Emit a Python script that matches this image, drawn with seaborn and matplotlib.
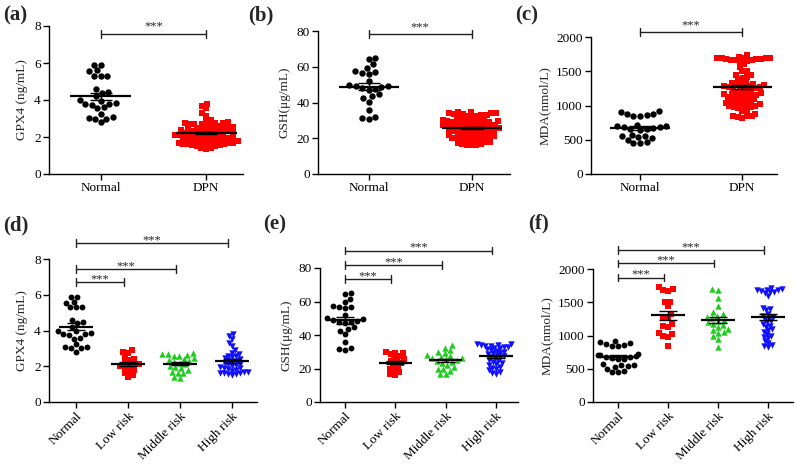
import numpy as np
import pandas as pd
import matplotlib
matplotlib.use("Agg")
import matplotlib.pyplot as plt
import seaborn as sns

sns.set_theme(style="ticks")
plt.rcParams["font.family"] = ["Liberation Serif", "DejaVu Serif"]

# ---------------- data ----------------
gpx4_normal = [5.9, 5.88, 5.6, 5.55, 5.3, 5.3, 5.3, 4.6, 4.4, 4.45, 4.2, 4.0, 3.95,
               3.85, 3.8, 3.8, 3.75, 3.6, 3.55, 3.25, 3.1, 3.05, 3.0, 3.0, 2.8]
gpx4_low = [2.9, 2.8, 2.75, 2.5, 2.4, 2.35, 2.2, 2.15, 2.1, 2.05, 2.0, 1.9, 1.8, 1.75,
            1.6, 1.5, 1.4]
gpx4_middle = [2.75, 2.7, 2.7, 2.65, 2.6, 2.55, 2.45, 2.4, 2.35, 2.3, 2.25, 2.2, 2.1,
               2.0, 1.95, 1.9, 1.8, 1.7, 1.65, 1.6, 1.4, 1.35]
gpx4_high = [3.8, 3.7, 3.55, 3.3, 3.15, 2.9, 2.75, 2.7, 2.6, 2.55, 2.5, 2.45, 2.4, 2.35,
             2.3, 2.25, 2.2, 2.15, 2.1, 2.05, 2.0, 1.95, 1.9, 1.9, 1.85, 1.8, 1.75, 1.7,
             1.7, 1.65, 1.6, 1.6, 1.55, 1.55, 1.5]

gsh_normal = [65, 64.5, 61.5, 59.5, 57.5, 57, 56.5, 56, 52, 50, 49.5, 49, 48.5, 48, 47.5,
              47, 44.5, 43.5, 42.5, 40.5, 36, 32, 31.5, 31]
gsh_low = [30, 29.5, 29, 28.5, 27.5, 26.5, 25.5, 24.5, 24, 23, 22, 21, 20, 19, 18, 16.5, 16]
gsh_middle = [34, 32.5, 31, 30, 29, 28, 27.5, 27, 26.5, 26, 25.5, 25, 24.5, 24, 23, 22,
              21, 20, 19.5, 18.5, 17, 16.5]
gsh_high = [34.5, 34.5, 34, 34, 33.5, 33.5, 33, 33, 32.5, 32, 31.5, 31, 30.5, 30, 29.5,
            29, 28.5, 28, 27.5, 27, 26.5, 26, 25, 24.5, 24, 23, 22.5, 22, 21, 20.5, 20,
            19, 18, 17.5, 17]

mda_normal = [920, 900, 880, 870, 860, 840, 840, 720, 700, 700, 690, 680, 670, 660, 650,
              640, 570, 560, 550, 540, 530, 500, 470, 450, 450]
mda_low = [1730, 1700, 1680, 1670, 1510, 1500, 1440, 1330, 1280, 1270, 1170, 1150, 1130,
           1040, 1020, 1000, 980, 840]
mda_middle = [1700, 1680, 1560, 1450, 1350, 1320, 1300, 1280, 1260, 1240, 1220, 1200,
              1180, 1160, 1130, 1100, 1080, 1050, 1040, 990, 940, 830]
mda_high = [1710, 1700, 1690, 1690, 1680, 1670, 1660, 1650, 1640, 1600, 1420, 1400, 1380,
            1330, 1300, 1280, 1270, 1250, 1220, 1200, 1170, 1150, 1130, 1100, 1080, 1050,
            1020, 1000, 980, 960, 920, 880, 850, 840, 820]

# DPN group = all risk groups together
gpx4_dpn = gpx4_low + gpx4_middle + gpx4_high
gsh_dpn = gsh_low + gsh_middle + gsh_high
mda_dpn = mda_low + mda_middle + mda_high

groups_2 = ["Normal", "DPN"]
groups_4 = ["Normal", "Low risk", "Middle risk", "High risk"]

ylabels = ["GPX4 (ng/mL)", "GSH(\u03bcg/mL)", "MDA(nmol/L)"]
yticks = [[0, 2, 4, 6, 8], [0, 20, 40, 60, 80], [0, 500, 1000, 1500, 2000]]
panel_letters = ["(a)", "(b)", "(c)", "(d)", "(e)", "(f)"]

# ---------------- styles ----------------
colors = {"Normal": "#000000", "DPN": "#FF0000", "Low risk": "#FF0000",
          "Middle risk": "#1FCC1F", "High risk": "#1010FF"}
markers = {"Normal": "o", "DPN": "s", "Low risk": "s",
           "Middle risk": "^", "High risk": "v"}

W, H = 797, 466
fig = plt.figure(figsize=(W / 100, H / 100), dpi=100)
fig.patch.set_facecolor("white")


def add_ax(l, r, t, b):
    return fig.add_axes([l / W, 1 - b / H, (r - l) / W, (b - t) / H])


panels = [
    dict(box=(49, 243, 26, 174), groups=groups_2, data=[gpx4_normal, gpx4_dpn], m=0,
         xlim=(-0.49, 1.35), letter_xy=(3, 5),
         brackets=[(1, 0.946)], star_off=3.0),
    dict(box=(318, 510, 31, 174), groups=groups_2, data=[gsh_normal, gsh_dpn], m=1,
         xlim=(-0.49, 1.37), letter_xy=(248, 5),
         brackets=[(1, 0.979)], star_off=3.0),
    dict(box=(591, 777, 37, 174), groups=groups_2, data=[mda_normal, mda_dpn], m=2,
         xlim=(-0.48, 1.34), letter_xy=(515, 5),
         brackets=[(1, 1.036)], star_off=3.0),
    dict(box=(49, 257, 259, 402), groups=groups_4,
         data=[gpx4_normal, gpx4_low, gpx4_middle, gpx4_high], m=0,
         xlim=(-0.52, 3.48), letter_xy=(3, 215),
         brackets=[(1, 0.839), (2, 0.93), (3, 1.112)], star_off=0.0),
    dict(box=(320, 518, 268, 402), groups=groups_4,
         data=[gsh_normal, gsh_low, gsh_middle, gsh_high], m=1,
         xlim=(-0.5, 3.44), letter_xy=(263, 214),
         brackets=[(1, 0.918), (2, 1.022), (3, 1.129)], star_off=0.0),
    dict(box=(593, 793, 269, 402), groups=groups_4,
         data=[mda_normal, mda_low, mda_middle, mda_high], m=2,
         xlim=(-0.5, 3.5), letter_xy=(528, 213),
         brackets=[(1, 0.935), (2, 1.042), (3, 1.143)], star_off=0.0),
]

point_colls = []

for k, p in enumerate(panels):
    ax = add_ax(*p["box"])
    groups = p["groups"]
    two = len(groups) == 2
    ymax = yticks[p["m"]][-1]
    for i, (g, vals) in enumerate(zip(groups, p["data"])):
        df = pd.DataFrame({"group": [g] * len(vals), "value": vals})
        n_before = len(ax.collections)
        very_dense = len(vals) > 60
        dense = len(vals) > 30
        final = 4.6 if g == "Normal" else (4.4 if markers[g] == "s" else 5.0)
        if not two:
            final *= 0.92
        if very_dense:
            factor = 0.74
        elif dense:
            factor = 0.62
        elif g != "Normal":
            factor = 0.85
        else:
            factor = 1.0
        swarm_size = final * factor
        sns.swarmplot(data=df, x="group", y="value", order=groups, color=colors[g],
                      marker=markers[g], size=swarm_size, linewidth=0, ax=ax,
                      warn_thresh=1.0, zorder=2)
        for c in ax.collections[n_before:]:
            point_colls.append((c, final))
        m = float(np.mean(vals))
        se = float(np.std(vals, ddof=1) / np.sqrt(len(vals)))
        mw = 0.58 if two else 0.67
        ax.hlines(m, i - mw / 2, i + mw / 2, color="black", lw=1.6, zorder=5)
        ax.errorbar(i, m, yerr=se, fmt="none", ecolor="black", elinewidth=1.0,
                    capsize=8.0 if two else 6.5, capthick=1.0, zorder=5)

    ax.set_xlim(*p["xlim"])
    ax.set_ylim(0, ymax)
    ax.set_yticks(yticks[p["m"]])
    ax.set_xticks(range(len(groups)))
    ax.set_xlabel("")
    ax.set_ylabel(ylabels[p["m"]], fontsize=9.5, labelpad=4)
    for s in ["top", "right"]:
        ax.spines[s].set_visible(False)
    for s in ["left", "bottom"]:
        ax.spines[s].set_linewidth(1.0)
        ax.spines[s].set_color("black")
    ax.tick_params(axis="both", direction="out", length=4, width=1.0,
                   labelsize=9.5, colors="black", pad=2)
    if two:
        ax.set_xticklabels(groups)
    else:
        ax.set_xticklabels(groups, rotation=45, ha="right", rotation_mode="anchor")
    ax.set_facecolor("white")

    # significance brackets
    h = 0.027 * ymax
    for (j, frac) in p["brackets"]:
        y = frac * ymax
        x0, x1 = 0, (j if two else j - 0.08)
        ax.plot([x0, x1], [y, y], color="#222222", lw=1.0, clip_on=False)
        ax.plot([x0, x0], [y - h, y + h], color="#222222", lw=1.0, clip_on=False)
        ax.plot([x1, x1], [y - h, y + h], color="#222222", lw=1.0, clip_on=False)
        ax.annotate("***", xy=((x0 + x1) / 2, y), xytext=(0, p["star_off"]),
                    textcoords="offset points", ha="center", va="baseline",
                    fontsize=9, annotation_clip=False)

    lx, ly = p["letter_xy"]
    fig.text(lx / W, 1 - ly / H, panel_letters[k], fontsize=15, fontweight="bold",
             ha="left", va="top")

# compute the swarms once, then freeze them and draw the markers at full size
fig.canvas.draw()
for c, final in point_colls:
    if "draw" in vars(c):
        del c.draw
    c.set_sizes([final ** 2])

fig.savefig("out.png", dpi=100, facecolor="white")
